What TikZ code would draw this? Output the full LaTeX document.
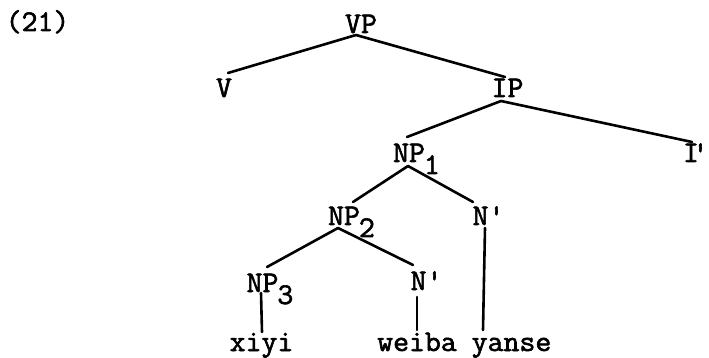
\documentclass[tikz,border=0pt]{standalone}
\usepackage{fontspec}
\newfontfamily\treefont[FakeStretch=1.03,FakeBold=2]{Latin Modern Mono}
% lowered, full-size index after a category label
\newcommand{\idx}[1]{\rlap{\kern-1pt\raisebox{-12pt}{#1}}}
\tikzset{
  cat/.style={inner sep=0pt, anchor=base, font=\fontsize{30}{36}\treefont},
  branch/.style={line width=2.6pt, line cap=round}
}
\begin{document}
\begin{tikzpicture}[x=1pt, y=-1pt]
\useasboundingbox (0,0) rectangle (709,358);

% example number
\node[cat] (ex) at (37.5,31) {(21)};

% category nodes
\node[cat] (vp)  at (361,33)    {VP};
\node[cat] (v)   at (224,97)    {V};
\node[cat] (ip)  at (507.5,97)  {IP};
\node[cat] (np1) at (409,162)   {NP\idx{1}};
\node[cat] (ib)  at (691,162)   {I\rlap{\kern-6.5pt'}};
\node[cat] (np2) at (344,225)   {NP\idx{2}};
\node[cat] (nb1) at (488.5,225) {N'};
\node[cat] (np3) at (262.5,292) {NP\idx{3}};
\node[cat] (nb2) at (426.5,290) {N'};

% words
\node[cat] (w1) at (261.5,351) {xiyi};
\node[cat] (w2) at (417,351)   {weiba};
\node[cat] (w3) at (511.5,351) {yanse};

% branches
\draw[branch] ([shift={(-5,2)}]vp.base)    -- ([shift={(4,-24)}]v.base);
\draw[branch] ([shift={(-5,2)}]vp.base)    -- ([shift={(-2.5,-20)}]ip.base);
\draw[branch] ([shift={(-6.5,4)}]ip.base)  -- ([shift={(-2,-25)}]np1.base);
\draw[branch] ([shift={(-6.5,4)}]ip.base)  -- ([shift={(1,-20)}]ib.base);
\draw[branch] ([shift={(-1,4)}]np1.base)   -- ([shift={(9,-23)}]np2.base);
\draw[branch] ([shift={(-1,4)}]np1.base)   -- ([shift={(-15.5,-23)}]nb1.base);
\draw[branch] ([shift={(-6,3)}]np2.base)   -- ([shift={(4.5,-25)}]np3.base);
\draw[branch] ([shift={(-6,3)}]np2.base)   -- ([shift={(-13.5,-25)}]nb2.base);
\draw[branch] ([shift={(-1.5,1)}]np3.base) -- ([shift={(0.5,-19)}]w1.base);
\draw[branch] ([shift={(-9.5,7)}]nb2.base) -- ([shift={(0,-21)}]w2.base);
\draw[branch] ([shift={(-3.5,3)}]nb1.base) -- ([shift={(-28.5,-21)}]w3.base);
\end{tikzpicture}
\end{document}
